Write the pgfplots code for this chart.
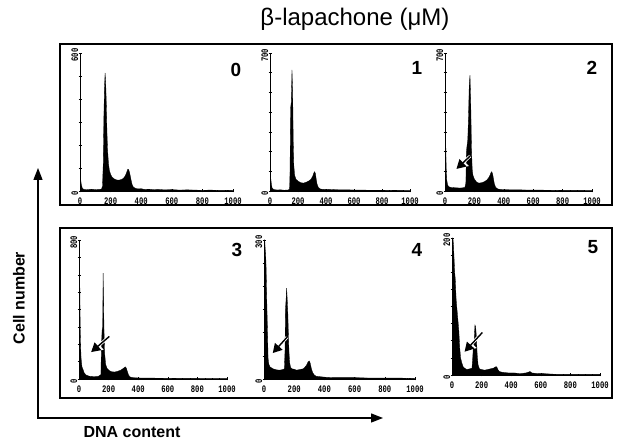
\documentclass[border=0pt]{standalone}
\usepackage{fontspec}
\setmainfont{Liberation Sans}
\newfontfamily\monof{Liberation Mono}
\usepackage{pgfplots}
\pgfplotsset{compat=1.18}
\usetikzlibrary{arrows.meta}
\newcommand{\tickf}{\monof\bfseries\fontsize{10}{10}\selectfont}
\pgfplotsset{
  hist/.style={
    scale only axis, anchor=south west,
    axis lines*=left, axis line style={-, line width=0.7pt},
    xmin=0, xmax=1000, ymin=0, enlargelimits=false,
    xtick={0,200,400,600,800,1000}, xticklabels={0,200,400,600,800,1000},
    minor x tick num=3,
    /pgf/number format/assume math mode=true,
    /pgf/number format/1000 sep={},
    tick align=center, major tick length=3pt, minor tick length=2pt,
    tick style={line width=0.5pt, black},
    xticklabel style={font=\tickf, inner sep=0pt, xscale=0.72, yshift=-5pt},
    yticklabel style={font=\tickf, rotate=90, xscale=0.72, anchor=south, inner sep=0pt, xshift=-3pt},
  },
  histfill/.style={draw=black, fill=black, line width=0.3pt, mark=none, sharp plot},
}
\newcommand{\pointer}[4]{%
  \draw[white, line width=3pt, -{Triangle[length=11pt,width=12pt]}] (axis cs:#1,#2) -- (axis cs:#3,#4);
  \draw[black, line width=1.4pt, -{Triangle[length=9pt,width=10pt]}] (axis cs:#1,#2) -- (axis cs:#3,#4);}
\begin{document}
\begin{tikzpicture}[x=1pt,y=1pt]
\useasboundingbox (0,0) rectangle (619,441);
\node[font=\fontsize{24}{24}\selectfont] at (355,422) {β-lapachone (μM)};
\draw[line width=1.1pt] (60,236) rectangle (612,397);
\draw[line width=1.1pt] (60,43) rectangle (612,213);
\draw[line width=1.3pt, {Triangle[length=12pt,width=9pt]}-{Triangle[length=12pt,width=9pt]}] (38,273) |- (383,23);
\node[rotate=90, font=\bfseries\fontsize{16}{16}\selectfont] at (19,143) {Cell number};
\node[font=\bfseries\fontsize{16}{16}\selectfont] at (132,9) {DNA content};

% Panel 0
\begin{axis}[hist, at={(80pt,250pt)}, width=153pt, height=138pt, ymax=600,
  ytick={0,100,...,600}, yticklabels={0,,,,,,600}]
\addplot[histfill] coordinates {(0,0) (3,60) (8,30) (15,12) (25,7) (50,6) (75,8) (100,6) (125,7) (140,8) (147,20) (152,120) (156,320) (160,450) (164,513) (168,470) (172,380) (176,260) (180,180) (186,120) (192,90) (200,72) (210,60) (225,52) (240,48) (255,47) (270,50) (282,54) (292,62) (300,72) (307,85) (313,95) (318,93) (324,80) (330,60) (336,40) (342,25) (350,16) (365,11) (380,9) (400,10) (420,7) (450,8) (480,6) (510,7) (550,5) (600,6) (650,4) (700,5) (750,4) (800,3) (850,4) (900,3) (950,3) (1000,2) (1000,0)} \closedcycle;
\end{axis}
\node[font=\bfseries\fontsize{19}{19}\selectfont] at (236,371) {0};

% Panel 1
\begin{axis}[hist, at={(270pt,250pt)}, width=140pt, height=138pt, ymax=700,
  ytick={0,100,...,700}, yticklabels={0,,,,,,,700}]
\addplot[histfill] coordinates {(0,0) (2,70) (6,60) (10,35) (15,15) (25,8) (50,5) (75,6) (100,4) (130,5) (140,10) (143,100) (147,420) (152,450) (157,614) (162,500) (166,250) (170,130) (176,80) (185,60) (200,50) (220,42) (240,40) (260,45) (280,52) (295,62) (305,75) (312,90) (318,98) (324,90) (330,60) (336,35) (345,18) (360,10) (380,8) (400,9) (450,7) (500,6) (550,6) (600,5) (650,5) (700,4) (800,4) (900,3) (1000,2) (1000,0)} \closedcycle;
\end{axis}
\node[font=\bfseries\fontsize{19}{19}\selectfont] at (417,373) {1};

% Panel 2
\begin{axis}[hist, at={(445pt,250pt)}, width=147pt, height=138pt, ymax=700,
  ytick={0,100,...,700}, yticklabels={0,,,,,,,700}]
\addplot[histfill] coordinates {(0,0) (2,360) (5,250) (8,120) (12,55) (18,30) (25,22) (40,18) (60,17) (80,16) (100,15) (120,16) (135,18) (142,40) (146,200) (150,230) (155,260) (160,380) (165,540) (170,588) (175,450) (180,220) (185,110) (190,80) (200,60) (215,45) (230,40) (250,42) (270,48) (285,56) (298,68) (306,80) (312,92) (318,98) (324,86) (330,60) (336,35) (345,18) (360,10) (380,8) (400,7) (450,6) (500,6) (550,5) (600,5) (700,4) (800,3) (900,3) (1000,2) (1000,0)} \closedcycle;
\pointer{172}{178}{78}{112}
\end{axis}
\node[font=\bfseries\fontsize{19}{19}\selectfont] at (592,373) {2};

% Panel 3
\begin{axis}[hist, at={(79pt,62pt)}, width=148pt, height=139pt, ymax=800,
  ytick={0,100,...,800}, yticklabels={0,,,,,,,,800}]
\addplot[histfill] coordinates {(0,0) (2,720) (4,690) (6,500) (8,300) (10,213) (14,120) (20,70) (27,55) (35,35) (50,22) (70,16) (100,14) (130,15) (148,25) (152,200) (156,280) (160,300) (163,610) (166,450) (169,280) (173,150) (180,85) (190,60) (205,48) (220,42) (240,40) (260,44) (280,50) (295,58) (305,65) (313,70) (320,62) (328,40) (335,22) (345,12) (360,8) (400,6) (450,5) (500,5) (600,4) (700,3) (800,3) (900,2) (1000,2) (1000,0)} \closedcycle;
\pointer{205}{245}{82}{155}
\end{axis}
\node[font=\bfseries\fontsize{19}{19}\selectfont] at (237,191) {3};

% Panel 4
\begin{axis}[hist, at={(264pt,62pt)}, width=151pt, height=139pt, ymax=300,
  ytick={0,50,...,300}, yticklabels={0,,,,,,300}]
\addplot[histfill] coordinates {(0,0) (2,295) (5,300) (8,280) (11,270) (14,240) (17,190) (20,145) (24,90) (27,45) (32,32) (40,26) (60,22) (80,20) (100,19) (120,20) (135,22) (139,60) (142,150) (146,170) (150,196) (154,170) (158,140) (162,90) (166,55) (170,35) (176,25) (185,22) (200,21) (215,19) (230,20) (245,21) (260,22) (272,26) (282,30) (292,37) (300,39) (306,34) (314,22) (322,14) (332,9) (345,6) (370,5) (400,4) (450,3) (500,3) (600,3) (700,2) (800,2) (900,2) (1000,1) (1000,0)} \closedcycle;
\pointer{152}{90}{58}{56}
\end{axis}
\node[font=\bfseries\fontsize{19}{19}\selectfont] at (417,191) {4};

% Panel 5
\begin{axis}[hist, at={(452pt,66pt)}, width=148pt, height=137pt, ymax=200,
  ytick={0,25,...,200}, yticklabels={0,,,,,,,,200}]
\addplot[histfill] coordinates {(0,0) (2,200) (6,200) (10,190) (14,170) (18,150) (22,140) (28,110) (34,95) (40,80) (46,65) (52,40) (58,25) (66,18) (75,12) (85,10) (100,8) (120,9) (135,10) (140,25) (145,45) (150,50) (155,73) (160,70) (165,55) (170,30) (176,15) (185,9) (200,8) (220,7) (240,8) (260,9) (280,10) (295,12) (302,12) (310,8) (320,5) (340,4) (380,3) (420,3) (460,2) (500,3) (527,5) (540,3) (580,2) (620,2) (700,1) (800,1) (900,1) (1000,1) (1000,0)} \closedcycle;
\pointer{205}{62}{85}{34}
\end{axis}
\node[font=\bfseries\fontsize{19}{19}\selectfont] at (593,194) {5};
\end{tikzpicture}
\end{document}
